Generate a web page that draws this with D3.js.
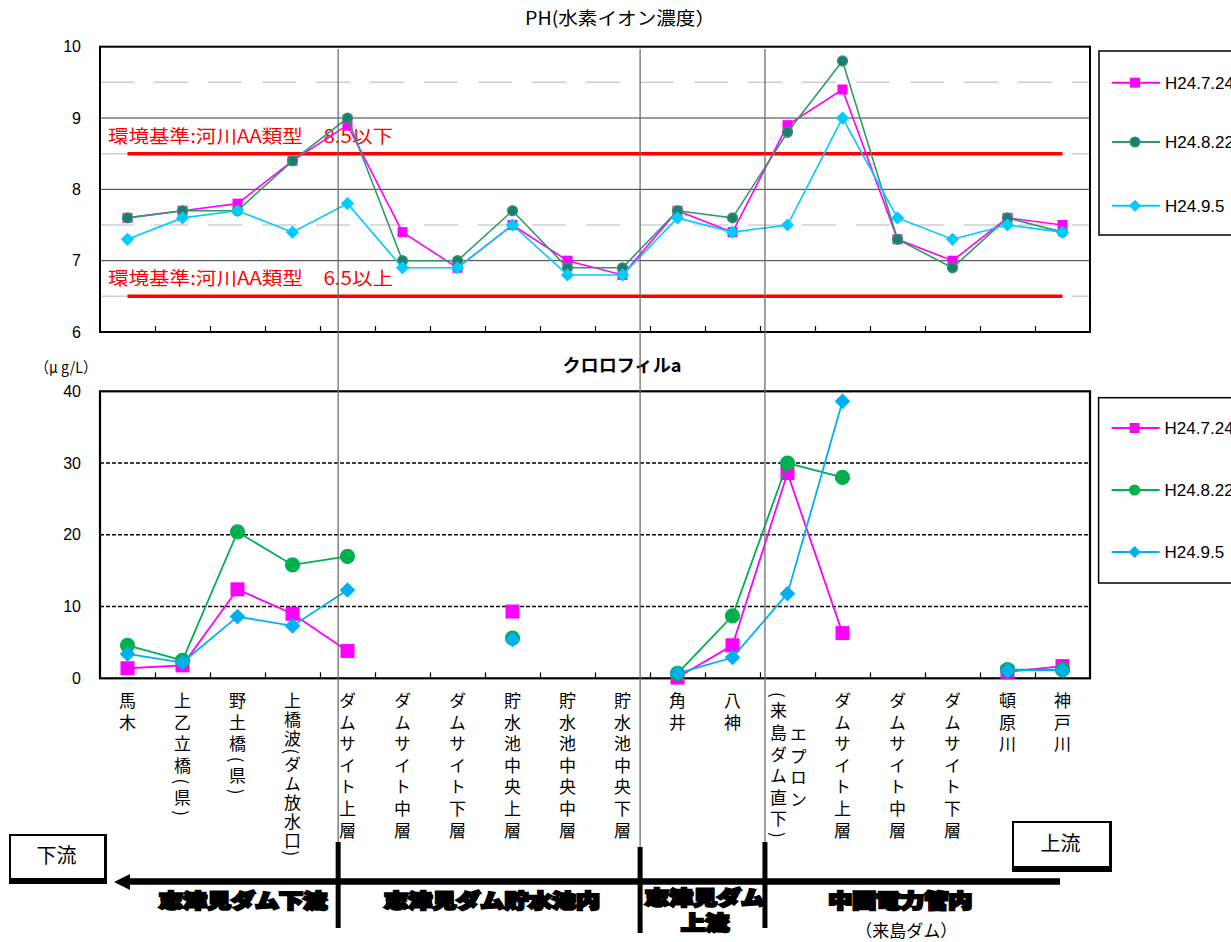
<!DOCTYPE html>
<html><head><meta charset="utf-8">
<script src="https://cdn.jsdelivr.net/npm/d3@7"></script>
<style>
body{margin:0;background:#fff;}
svg{display:block;font-family:"Noto Sans CJK JP","Noto Sans",sans-serif;}
</style></head><body>
<svg id="c" width="1231" height="942"></svg>
<script>
// ---------- data ----------
const categories = ["馬木","上乙立橋(県)","野土橋(県)","上橋波(ダム放水口)","ダムサイト上層","ダムサイト中層","ダムサイト下層","貯水池中央上層","貯水池中央中層","貯水池中央下層","角井","八神","エプロン\n(来島ダム直下)","ダムサイト上層","ダムサイト中層","ダムサイト下層","頓原川","神戸川"];
const seriesNames = ["H24.7.24","H24.8.22","H24.9.5"];
const ph0724 = [7.6,7.7,7.8,8.4,8.9,7.4,6.9,7.5,7.0,6.8,7.7,7.4,8.9,9.4,7.3,7.0,7.6,7.5];
const ph0822 = [7.6,7.7,7.7,8.4,9.0,7.0,7.0,7.7,6.9,6.9,7.7,7.6,8.8,9.8,7.3,6.9,7.6,7.4];
const ph0905 = [7.3,7.6,7.7,7.4,7.8,6.9,6.9,7.5,6.8,6.8,7.6,7.4,7.5,9.0,7.6,7.3,7.5,7.4];
const chl0724 = [1.4,1.8,12.4,9.0,3.8,null,null,9.3,null,null,0.1,4.6,28.6,6.3,null,null,0.9,1.7];
const chl0822 = [4.6,2.5,20.4,15.8,17.0,null,null,5.6,null,null,0.7,8.7,30.0,28.0,null,null,1.2,1.2];
const chl0905 = [3.4,2.2,8.6,7.3,12.3,null,null,5.4,null,null,0.7,2.9,11.8,38.6,null,null,1.1,1.1];
const phTicks = [6,7,8,9,10];
const phMinor = [6.5,7.5,8.5,9.5];
const chlTicks = [0,10,20,30,40];
const standards = [8.5,6.5];
const standardLabels = ["環境基準:河川AA類型　8.5以下","環境基準:河川AA類型　6.5以上"];
const dividerPos = [4.33,9.82,12.09];
const sectionLabels = [
  {lines:["志津見ダム下流"], pos:2.6},
  {lines:["志津見ダム貯水池内"], pos:7.13},
  {lines:["志津見ダム","上流"], pos:11.0},
  {lines:["中国電力管内"], pos:14.55, sub:"（来島ダム）"}
];

// ---------- layout ----------
const svg = d3.select("#c");
const L = 100, R = 1090;
const x = d3.scaleBand().domain(d3.range(categories.length)).range([L,R]).padding(0);
const xu = d3.scaleLinear().domain([0,categories.length]).range([L,R]);
const cx = i => x(i) + x.bandwidth()/2;

const yPH = d3.scaleLinear().domain([6,10]).range([332,46.7]);
const yCh = d3.scaleLinear().domain([0,40]).range([678.3,391.3]);

// ---------- PH chart ----------
const gPH = svg.append("g");
gPH.selectAll("line.minor").data(phMinor).join("line")
  .attr("x1",L).attr("x2",R).attr("y1",d=>yPH(d)).attr("y2",d=>yPH(d))
  .attr("stroke","#cfcfcf").attr("stroke-width",1.5).attr("stroke-dasharray","34,20");
gPH.selectAll("line.major").data([7,8,9]).join("line")
  .attr("x1",L).attr("x2",R).attr("y1",d=>yPH(d)).attr("y2",d=>yPH(d))
  .attr("stroke","#3a3a3a").attr("stroke-width",1);

gPH.selectAll("line.std").data(standards).join("line")
  .attr("x1",cx(0)).attr("x2",cx(categories.length-1))
  .attr("y1",d=>yPH(d)).attr("y2",d=>yPH(d))
  .attr("stroke","#ff0000").attr("stroke-width",3.5);
gPH.selectAll("text.std").data(standardLabels).join("text")
  .attr("x",108).attr("y",(d,i)=>yPH(standards[i]) - 11)
  .attr("fill","#ff0000").attr("font-size",18)
  .attr("textLength",285).attr("lengthAdjust","spacingAndGlyphs")
  .text(d=>d);

gPH.append("rect").attr("x",L).attr("y",yPH(10)).attr("width",R-L).attr("height",yPH(6)-yPH(10))
  .attr("fill","none").attr("stroke","#000").attr("stroke-width",2);
gPH.append("g").attr("transform",`translate(0,${yPH(6)})`)
  .call(d3.axisBottom(xu).tickValues(d3.range(1,categories.length)).tickSizeInner(-6).tickSizeOuter(0).tickFormat(""))
  .call(g=>g.select(".domain").remove())
  .call(g=>g.selectAll("line").attr("stroke","#000").attr("stroke-width",1.2));
gPH.append("g").attr("transform",`translate(${L},0)`)
  .call(d3.axisLeft(yPH).tickValues(phTicks).tickFormat(d3.format("d")).tickSize(0).tickPadding(19))
  .call(g=>g.select(".domain").remove())
  .call(g=>g.selectAll("text").attr("font-size",16).attr("font-family","'Liberation Sans Narrow','Liberation Sans',sans-serif").attr("fill","#000"));

svg.append("text").attr("x",620).attr("y",25).attr("text-anchor","middle")
  .attr("font-size",18).attr("textLength",190).attr("lengthAdjust","spacingAndGlyphs")
  .text("PH(水素イオン濃度）");

// ---------- markers ----------
function marker(sel, type, size, fill, stroke){
  if(type==="square"){
    sel.append("rect").attr("x",-size/2).attr("y",-size/2).attr("width",size).attr("height",size)
      .attr("fill",fill);
  } else if(type==="circle"){
    sel.append("circle").attr("r",size/2).attr("fill",fill).attr("stroke",stroke||fill).attr("stroke-width",1.2);
  } else {
    const s=size/2*1.2;
    sel.append("path").attr("d",`M0,${-s}L${s},0L0,${s}L${-s},0Z`).attr("fill",fill);
  }
}

const phData = [
  {name:seriesNames[0], vals:ph0724, color:"#ff00ff", mfill:"#ff00ff", type:"square", ms:10},
  {name:seriesNames[1], vals:ph0822, color:"#339966", mfill:"#1d7d70", mstroke:"#339966", type:"circle", ms:10},
  {name:seriesNames[2], vals:ph0905, color:"#00ccff", mfill:"#00ccff", type:"diamond", ms:11}
];
const chData = [
  {name:seriesNames[0], vals:chl0724, color:"#ff00ff", mfill:"#ff00ff", type:"square", ms:14},
  {name:seriesNames[1], vals:chl0822, color:"#00b050", mfill:"#00b050", type:"circle", ms:14},
  {name:seriesNames[2], vals:chl0905, color:"#00b0f0", mfill:"#00b0f0", type:"diamond", ms:13}
];

function drawSeries(g, data, y, lw){
  data.forEach(s=>{
    const line = d3.line().defined(d=>d!=null).x((d,i)=>cx(i)).y(d=>y(d));
    g.append("path").attr("d",line(s.vals)).attr("fill","none").attr("stroke",s.color).attr("stroke-width",lw);
    const pts = s.vals.map((v,i)=>({v,i})).filter(d=>d.v!=null);
    g.selectAll(null).data(pts).join("g")
      .attr("transform",d=>`translate(${cx(d.i)},${y(d.v)})`)
      .each(function(){ marker(d3.select(this), s.type, s.ms, s.mfill, s.mstroke); });
  });
}
drawSeries(gPH.append("g"), phData, yPH, 1.6);

function legend(g, data, x0, y0, h, ys, ms){
  g.append("rect").attr("x",x0).attr("y",y0).attr("width",200).attr("height",h)
    .attr("fill","#fff").attr("stroke","#000").attr("stroke-width",1.5);
  data.forEach((s,i)=>{
    const gy = ys[i];
    g.append("line").attr("x1",x0+13).attr("x2",x0+61).attr("y1",gy).attr("y2",gy).attr("stroke",s.color).attr("stroke-width",2);
    const m = g.append("g").attr("transform",`translate(${x0+36},${gy})`);
    marker(m, s.type, ms, s.mfill, s.mstroke);
    g.append("text").attr("x",x0+66).attr("y",gy).attr("dy","0.35em")
      .attr("font-size",17).attr("font-family","'Liberation Sans',sans-serif").text(s.name);
  });
}
legend(svg.append("g"), phData, 1099, 51, 184, [82.7,142,205.7], 10);

// ---------- Chlorophyll chart ----------
const gCh = svg.append("g");
gCh.selectAll("line.grid").data([10,20,30]).join("line")
  .attr("x1",L).attr("x2",R).attr("y1",d=>yCh(d)).attr("y2",d=>yCh(d))
  .attr("stroke","#000").attr("stroke-width",1.5).attr("stroke-dasharray","4,2");
gCh.append("rect").attr("x",L).attr("y",yCh(40)).attr("width",R-L).attr("height",yCh(0)-yCh(40))
  .attr("fill","none").attr("stroke","#000").attr("stroke-width",2.2);
gCh.append("g").attr("transform",`translate(0,${yCh(0)})`)
  .call(d3.axisBottom(xu).tickValues(d3.range(1,categories.length)).tickSizeInner(-6).tickSizeOuter(0).tickFormat(""))
  .call(g=>g.select(".domain").remove())
  .call(g=>g.selectAll("line").attr("stroke","#000").attr("stroke-width",1.2));
gCh.append("g").attr("transform",`translate(${L},0)`)
  .call(d3.axisLeft(yCh).tickValues(chlTicks).tickFormat(d3.format("d")).tickSize(0).tickPadding(19))
  .call(g=>g.select(".domain").remove())
  .call(g=>g.selectAll("text").attr("font-size",16).attr("font-family","'Liberation Sans Narrow','Liberation Sans',sans-serif").attr("fill","#000"));
svg.append("text").attr("x",622).attr("y",372).attr("text-anchor","middle")
  .attr("font-size",18).attr("font-weight",700).attr("textLength",119).attr("lengthAdjust","spacingAndGlyphs")
  .text("クロロフィルa");
svg.append("text").attr("x",35).attr("y",373).attr("font-size",15)
  .attr("textLength",62).attr("lengthAdjust","spacingAndGlyphs").text("（μ g/L）");
drawSeries(gCh.append("g"), chData, yCh, 1.8);
legend(svg.append("g"), chData, 1098.6, 397.7, 185.3, [428,490,552], 10);

// ---------- dividers ----------
const divG = svg.append("g");
dividerPos.forEach((p,i)=>{
  const xx = xu(p);
  const yEnd = i===1 ? 847 : 842;
  divG.append("line").attr("x1",xx).attr("x2",xx).attr("y1",49).attr("y2",yEnd)
    .attr("stroke","#6e6e6e").attr("stroke-width",1.3);
  divG.append("line").attr("x1",xx).attr("x2",xx).attr("y1",yEnd).attr("y2",yEnd+86)
    .attr("stroke","#000").attr("stroke-width",5);
});

// ---------- category labels (vertical) ----------
const labG = svg.append("g");
const maxLabelLen = 166;
categories.forEach((c,i)=>{
  const parts = c.split("\n");
  parts.forEach((t,j)=>{
    const offX = parts.length>1 ? (j===0 ? 11 : -9) : 0;
    const y0 = parts.length>1 && j===0 ? 726 : 692;
    const tx = labG.append("text")
      .attr("x",cx(i)+offX).attr("y",y0)
      .style("writing-mode","vertical-rl")
      .attr("font-size",17).attr("letter-spacing",4.6)
      .attr("fill","#000")
      .text(t);
    const len = tx.node().getComputedTextLength();
    if(len > maxLabelLen){
      const n = Array.from(t).length;
      tx.attr("letter-spacing", Math.max(0, 4.6 - (len-maxLabelLen)/n));
    }
  });
});

// ---------- flow arrow and boxes ----------
const fG = svg.append("g");
fG.append("line").attr("x1",126).attr("x2",1060).attr("y1",881.5).attr("y2",881.5).attr("stroke","#000").attr("stroke-width",6.5);
fG.append("path").attr("d","M114,882L130,874L130,890Z").attr("fill","#000");

function flowBox(x0,y0,w,h,label){
  fG.append("rect").attr("x",x0).attr("y",y0).attr("width",w).attr("height",h).attr("fill","#000");
  fG.append("rect").attr("x",x0+2).attr("y",y0+2).attr("width",w-5).attr("height",h-8).attr("fill","#fff");
  fG.append("text").attr("x",x0+(w-3)/2).attr("y",y0+(h-6)/2).attr("dy","0.36em").attr("text-anchor","middle")
    .attr("font-size",20).text(label);
}
flowBox(9,834,98,50,"下流");
flowBox(1012,821,100,51,"上流");

sectionLabels.forEach(s=>{
  const xx = xu(s.pos);
  s.lines.forEach((t,j)=>{
    const yy = s.lines.length>1 ? 898 + j*25 : 901;
    const w = t.length*24;
    fG.append("text").attr("x",xx).attr("y",yy).attr("dy","0.36em").attr("text-anchor","middle")
      .attr("font-size",19).attr("font-weight",900).attr("stroke","#000").attr("stroke-width",2.4)
      .attr("textLength",w).attr("lengthAdjust","spacingAndGlyphs")
      .text(t);
  });
  if(s.sub){
    fG.append("text").attr("x",xx+6).attr("y",931).attr("dy","0.36em").attr("text-anchor","middle")
      .attr("font-size",17).text(s.sub);
  }
});
</script>
</body></html>
